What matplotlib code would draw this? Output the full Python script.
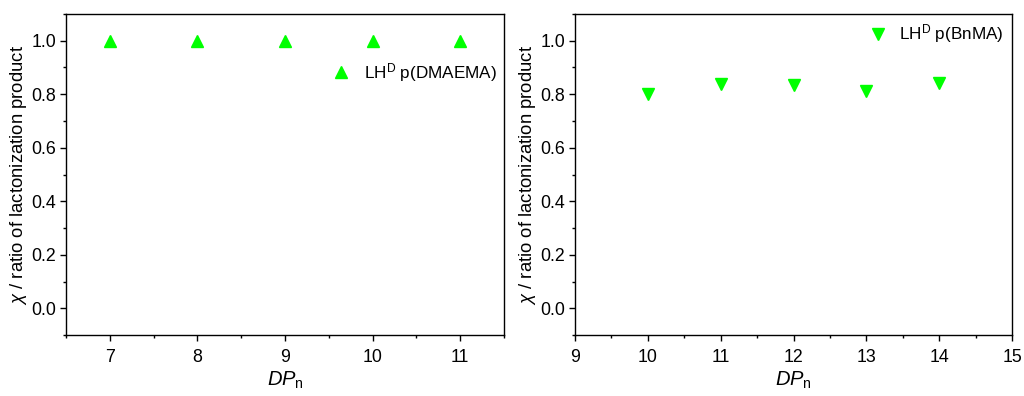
import matplotlib
matplotlib.use("Agg")
import matplotlib.pyplot as plt
from matplotlib.ticker import MultipleLocator

plt.rcParams['font.family'] = ['Liberation Sans', 'DejaVu Sans']
plt.rcParams['mathtext.fontset'] = 'custom'
plt.rcParams['mathtext.rm'] = 'Liberation Sans'
plt.rcParams['mathtext.it'] = 'Liberation Sans:italic'

dp_dmaema = [7, 8, 9, 10, 11]
chi_dmaema = [1.0, 1.0, 1.0, 1.0, 1.0]
dp_bnma = [10, 11, 12, 13, 14]
chi_bnma = [0.80, 0.838, 0.834, 0.811, 0.842]
label_dmaema = r'LH$^\mathrm{D}$ p(DMAEMA)'
label_bnma = r'LH$^\mathrm{D}$ p(BnMA)'
y_ticks = [0.0, 0.2, 0.4, 0.6, 0.8, 1.0]

green = '#00ff00'
fig = plt.figure(figsize=(10.24, 3.96), dpi=100)
ax1 = fig.add_axes([66/1024, 1-335/396, (504-66)/1024, (335-14)/396])
ax2 = fig.add_axes([575/1024, 1-335/396, (1012-575)/1024, (335-14)/396])

ax1.plot(dp_dmaema, chi_dmaema, linestyle='none', marker='^', ms=9, color=green, label=label_dmaema)
ax2.plot(dp_bnma, chi_bnma, linestyle='none', marker='v', ms=9, color=green, label=label_bnma)

ax1.set_xlim(6.5, 11.5)
ax1.xaxis.set_major_locator(MultipleLocator(1))
ax2.set_xlim(9, 15)
ax2.xaxis.set_major_locator(MultipleLocator(1))

for ax in (ax1, ax2):
    ax.set_ylim(-0.1, 1.1)
    ax.set_yticks(y_ticks)
    ax.yaxis.set_minor_locator(MultipleLocator(0.1))
    ax.xaxis.set_minor_locator(MultipleLocator(0.5))
    ax.tick_params(which='both', direction='out', top=False, right=False, labelsize=12.8)
    ax.tick_params(which='major', length=4, width=1)
    ax.tick_params(axis='x', which='major', pad=6)
    ax.tick_params(axis='y', which='major', pad=3)
    ax.tick_params(which='minor', length=2.5, width=1)
    for s in ax.spines.values():
        s.set_linewidth(1)
    ax.set_ylabel(r'$\chi$ / ratio of lactonization product', fontsize=13.3, labelpad=2)
    ax.set_xlabel(r'$DP_\mathrm{n}$', fontsize=14.5, labelpad=3)

ax1.legend(loc='upper right', bbox_to_anchor=(1.0, 0.875), frameon=False, fontsize=12.3,
           handletextpad=0.55, borderaxespad=0.0, handlelength=1.6)
ax2.legend(loc='upper right', bbox_to_anchor=(1.0, 1.0), frameon=False, fontsize=12.3,
           handletextpad=0.5, borderaxespad=0.1, handlelength=1.4)

fig.savefig('out.png', dpi=100)
